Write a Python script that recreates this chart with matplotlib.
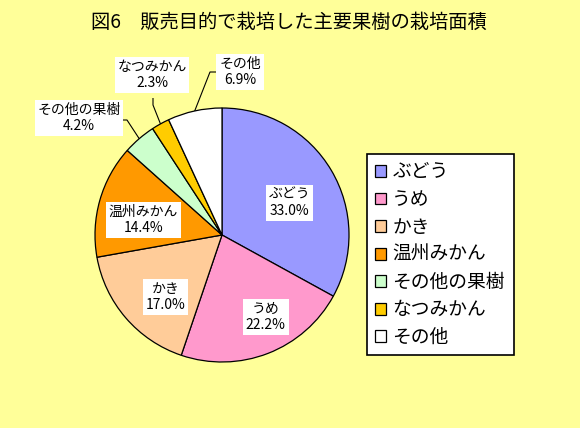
import matplotlib
matplotlib.use("Agg")
import matplotlib.pyplot as plt
import numpy as np

plt.rcParams['font.family'] = ['Noto Sans CJK JP', 'DejaVu Sans']

title = "図6　販売目的で栽培した主要果樹の栽培面積"
categories = ["ぶどう", "うめ", "かき", "温州みかん", "その他の果樹", "なつみかん", "その他"]
values = [33.0, 22.2, 17.0, 14.4, 4.2, 2.3, 6.9]
colors = ["#9999FF", "#FF99CC", "#FFCC99", "#FF9900", "#CCFFCC", "#FFCC00", "#FFFFFF"]

BG = "#FFFF99"
W, H = 580, 428
fig = plt.figure(figsize=(W / 100, H / 100), dpi=100, facecolor=BG)
ax = fig.add_axes([0, 0, 1, 1])
ax.set_facecolor(BG)

cx, cy, R = 222, H - 235, 127
wedges, _ = ax.pie(values, colors=colors, startangle=90, counterclock=False,
                   center=(cx, cy), radius=R,
                   wedgeprops=dict(edgecolor="black", linewidth=0.9))
ax.set_xlim(0, W)
ax.set_ylim(0, H)
ax.set_aspect("equal")
ax.axis("off")

box = dict(boxstyle="square,pad=0.2", facecolor="white", edgecolor="none")
fs = 10

# inside labels (distance as fraction of radius, angle offset)
inside = {0: (0.59, -5), 1: (0.73, 7), 2: (0.66, 7), 3: (0.63, 5)}
for i, (d, off) in inside.items():
    w = wedges[i]
    ang = np.deg2rad((w.theta1 + w.theta2) / 2 + off)
    x = cx + d * R * np.cos(ang)
    y = cy + d * R * np.sin(ang)
    ax.text(x, y, f"{categories[i]}\n{values[i]:.1f}%", ha="center", va="center",
            fontsize=fs, bbox=box, linespacing=1.2)

# outside labels: text centre (image px), elbow point, box attach point
outside = {
    4: ((79, 118), (127, 120), (122, 120)),
    5: ((152, 75), (153, 105), (153, 98)),
    6: ((240, 72), (210, 72), (217, 72)),
}
for i, (tc, elbow, attach) in outside.items():
    w = wedges[i]
    ang = np.deg2rad((w.theta1 + w.theta2) / 2)
    ex = cx + R * np.cos(ang)
    ey = cy + R * np.sin(ang)
    ax.plot([ex, elbow[0], attach[0]], [ey, H - elbow[1], H - attach[1]],
            color="black", linewidth=0.8, solid_capstyle="butt")
    ax.text(tc[0], H - tc[1], f"{categories[i]}\n{values[i]:.1f}%", ha="center",
            va="center", fontsize=fs, bbox=box, linespacing=1.2)

fig.text(289 / W, 1 - 22 / H, title, ha="center", va="center", fontsize=13.9)

leg = ax.legend(wedges, categories, loc="upper left",
                bbox_to_anchor=(367 / W, 1 - 352 / H, 147 / W, 198 / H),
                bbox_transform=fig.transFigure, mode="expand",
                frameon=True, fancybox=False, framealpha=1, fontsize=13.5,
                handlelength=0.6, handleheight=0.6, handletextpad=0.35,
                labelspacing=0.35, borderpad=0.4, borderaxespad=0)
leg.get_frame().set_edgecolor("black")
leg.get_frame().set_linewidth(1.2)
leg.get_frame().set_facecolor("white")
for h in leg.legend_handles:
    h.set_linewidth(0.9)
    h.set_edgecolor("black")

fig.savefig("out.png", dpi=100, facecolor=BG)
